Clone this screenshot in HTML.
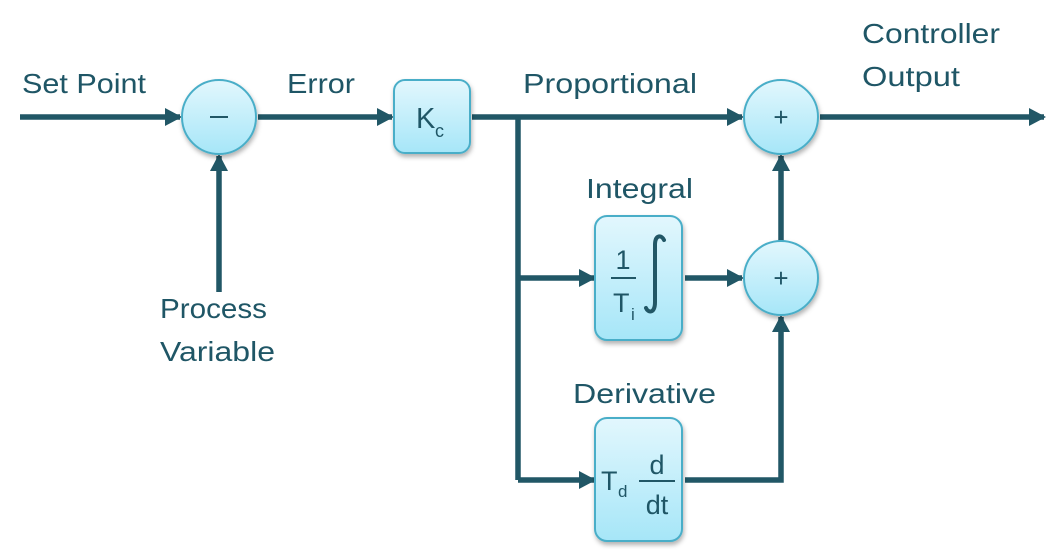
<!DOCTYPE html>
<html><head><meta charset="utf-8"><style>
html,body{margin:0;padding:0;background:#fff;}
svg{display:block;}
text{font-family:"Liberation Sans",sans-serif;fill:#1f5666;}
</style></head><body>
<svg width="1064" height="555" viewBox="0 0 1064 555" xmlns="http://www.w3.org/2000/svg">
<defs>
<linearGradient id="g" x1="0" y1="0" x2="0" y2="1">
<stop offset="0" stop-color="#e2f7fd"/><stop offset="1" stop-color="#a6e6f8"/>
</linearGradient>
<filter id="s" x="-20%" y="-20%" width="140%" height="150%">
<feDropShadow dx="1" dy="3" stdDeviation="2.5" flood-color="#000" flood-opacity="0.3"/>
</filter>
<marker id="a" markerWidth="17" markerHeight="18" refX="15" refY="9" orient="auto" markerUnits="userSpaceOnUse">
<path d="M0,0 L17,9 L0,18 z" fill="#215766"/>
</marker>
</defs>
<g stroke="#215766" stroke-width="5.5" fill="none">
<line x1="20" y1="117" x2="180" y2="117" marker-end="url(#a)"/>
<line x1="258" y1="117" x2="392" y2="117" marker-end="url(#a)"/>
<line x1="472" y1="117" x2="742" y2="117" marker-end="url(#a)"/>
<line x1="820" y1="117" x2="1044" y2="117" marker-end="url(#a)"/>
<line x1="219" y1="292" x2="219" y2="156" marker-end="url(#a)"/>
<polyline points="518,117 518,480"/>
<line x1="518" y1="278" x2="594" y2="278" marker-end="url(#a)"/>
<line x1="518" y1="480" x2="594" y2="480" marker-end="url(#a)"/>
<line x1="685" y1="278" x2="742" y2="278" marker-end="url(#a)"/>
<polyline points="685,480 781,480 781,317" marker-end="url(#a)"/>
<line x1="781" y1="241" x2="781" y2="156" marker-end="url(#a)"/>
</g>
<g fill="url(#g)" stroke="#4aaec8" stroke-width="2" filter="url(#s)">
<circle cx="219" cy="117" r="37"/>
<circle cx="781" cy="117" r="37"/>
<circle cx="781" cy="278" r="37"/>
<rect x="394" y="80" width="76" height="73" rx="11"/>
<rect x="595" y="216" width="87" height="124" rx="12"/>
<rect x="595" y="418" width="87" height="123" rx="12"/>
</g>
<g stroke="#215766" stroke-width="2" fill="none">
<line x1="210" y1="117" x2="228" y2="117"/>
<line x1="611" y1="278" x2="636" y2="278"/>
<line x1="639" y1="481" x2="675" y2="481"/>
</g>
<path d="M655,245 C655,234 662,235 664,240 M655,245 L655,302 C655,314 648,313 646,308" stroke="#215766" stroke-width="4" fill="none" stroke-linecap="round"/>
<text x="781" y="126" font-size="26" text-anchor="middle">+</text>
<text x="781" y="287" font-size="26" text-anchor="middle">+</text>
<text x="416" y="128" font-size="29">K</text><text x="435" y="137" font-size="18">c</text>
<text x="623" y="269" font-size="27" text-anchor="middle">1</text>
<text x="613" y="312" font-size="27">T</text><text x="631" y="320" font-size="17">i</text>
<text x="601" y="490" font-size="27">T</text><text x="618" y="497" font-size="17">d</text>
<text x="657" y="474" font-size="27" text-anchor="middle">d</text>
<text x="657" y="514" font-size="27" text-anchor="middle">dt</text>
<g font-size="28">
<text x="22" y="93" textLength="124" lengthAdjust="spacingAndGlyphs">Set Point</text>
<text x="287" y="93" textLength="68" lengthAdjust="spacingAndGlyphs">Error</text>
<text x="523" y="93" textLength="174" lengthAdjust="spacingAndGlyphs">Proportional</text>
<text x="862" y="43" textLength="138" lengthAdjust="spacingAndGlyphs">Controller</text>
<text x="862" y="86" textLength="98" lengthAdjust="spacingAndGlyphs">Output</text>
<text x="586" y="198" textLength="107" lengthAdjust="spacingAndGlyphs">Integral</text>
<text x="573" y="403" textLength="143" lengthAdjust="spacingAndGlyphs">Derivative</text>
<text x="160" y="318" textLength="107" lengthAdjust="spacingAndGlyphs">Process</text>
<text x="160" y="361" textLength="115" lengthAdjust="spacingAndGlyphs">Variable</text>
</g>
</svg>
</body></html>
